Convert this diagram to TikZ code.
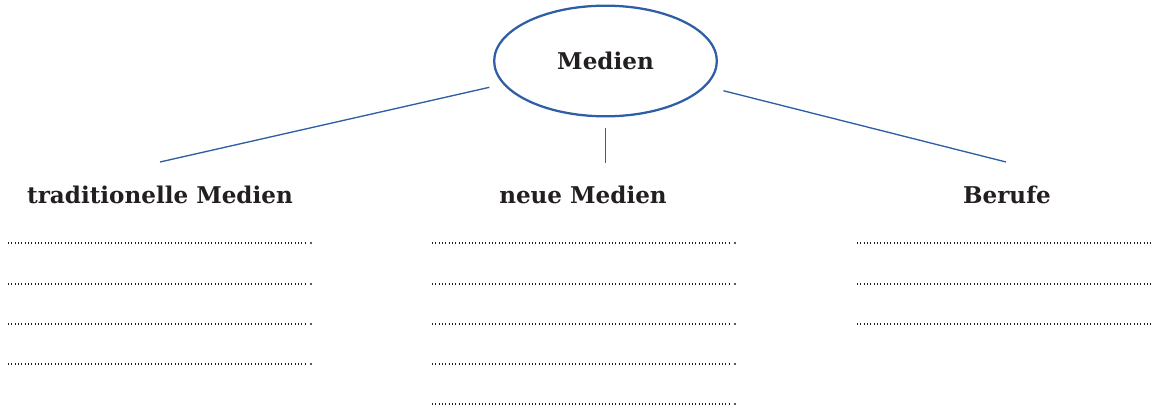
\documentclass[tikz,border=0pt]{standalone}
\usepackage{fontspec}
\setmainfont{DejaVu Serif}
\usetikzlibrary{shapes.geometric}

\definecolor{lineblue}{RGB}{46,94,165}
\definecolor{inkgray}{RGB}{35,31,32}

\tikzset{
	topic/.style = {ellipse, draw = lineblue, line width = 1.7pt, minimum width = 167pt, minimum height = 83pt, inner sep = 0pt, text = inkgray, font = \fontsize{17.3}{20}\selectfont\bfseries},
	head/.style = {text = inkgray, font = \fontsize{17.3}{20}\selectfont\bfseries},
	link/.style = {draw = lineblue, line width = 1pt},
	blank/.style = {inkgray, line width = .8pt, dash pattern = on .6pt off 1.9pt},
}

\begin{document}
\begin{tikzpicture}[x = .75pt, y = -.75pt]
	\useasboundingbox (0, 0) rectangle (1155, 409);
	
	% Mitte
	\node [topic] (medien) at (605.5, 61) {Medien};
	
	% Überschriften
	\node [head] (trad) at (160, 195) {traditionelle Medien};
	\node [head] (neu) at (583, 195) {neue Medien};
	\node [head] (berufe) at (1007, 195) {Berufe};
	
	% Linien
	\coordinate (trad-end) at (160, 162);
	\coordinate (neu-end) at (605.5, 163);
	\coordinate (berufe-end) at (1006, 162);
	\draw [link, shorten <= 10.5pt] (medien) -- (trad-end);
	\draw [link, shorten <= 8pt] (medien) -- (neu-end);
	\draw [link, shorten <= 13.5pt] (medien) -- (berufe-end);
	
	% Schreiblinien
	\foreach \y in {243, 284, 324, 364} {
		\draw [blank] (8, \y) -- (307, \y);
		\fill [inkgray] (311, \y) circle (.9pt);
	}
	\foreach \y in {243, 284, 324, 364, 404} {
		\draw [blank] (432, \y) -- (731, \y);
		\fill [inkgray] (735, \y) circle (.9pt);
	}
	\foreach \y in {243, 284, 324} {
		\draw [blank] (857, \y) -- (1153, \y);
	}
\end{tikzpicture}
\end{document}
